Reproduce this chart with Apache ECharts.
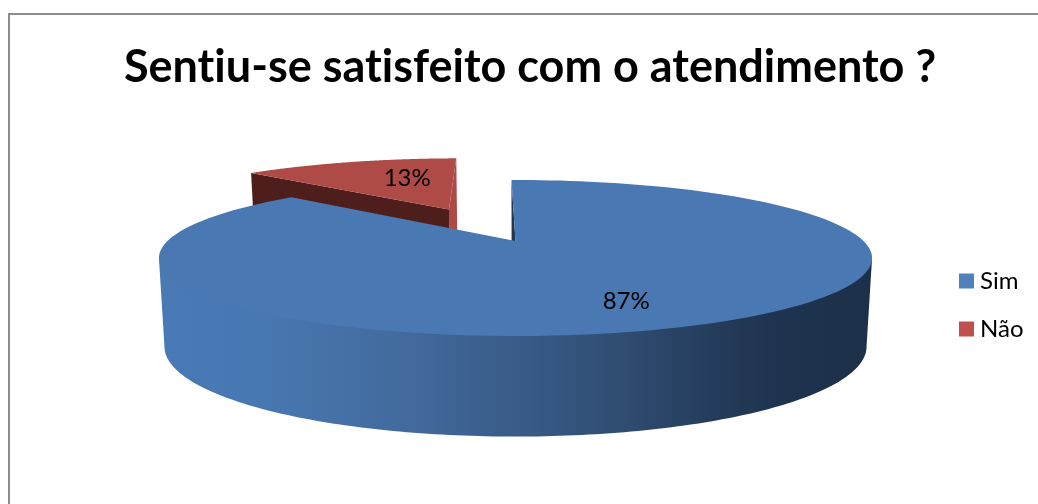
<!DOCTYPE html>
<html><head><meta charset="utf-8">
<style>html,body{margin:0;padding:0;background:#fff}#c{width:1038px;height:504px}</style>
<script src="https://cdn.jsdelivr.net/npm/echarts@6/dist/echarts.min.js"></script>
</head><body><div id="c"></div>
<script>
const titleText = 'Sentiu-se satisfeito com o atendimento ?';
const categories = ['Sim', 'Não'];
const values = [87, 13];
const total = values.reduce((a, b) => a + b, 0);

// perspective pie layout
const P = {cx: 515.5, b: 0.218, start: -0.8,
  top: {cy: 241, A: 74.3, R: 348},
  bot: {cy: 327, A: 85.7, R: 342.6},
  explode: [0, 0.514], shiftX: [0, 0]};

// no ligatures in canvas text
const nativeGetContext = HTMLCanvasElement.prototype.getContext;
HTMLCanvasElement.prototype.getContext = function () {
  const ctx = nativeGetContext.apply(this, arguments);
  if (ctx && 'fontVariantCaps' in ctx && 'textRendering' in ctx) ctx.textRendering = 'optimizeSpeed';
  return ctx;
};

const rad = d => d * Math.PI / 180;
function project(xw, yw, pl, dx) {
  const s = 1 / (1 + P.b * yw);
  return [P.cx + (dx || 0) + pl.R * xw * s, pl.cy - pl.A * yw * s];
}
function sliceAngles(i) {
  let a = P.start;
  for (let k = 0; k < i; k++) a += values[k] / total * 360;
  return [a, a + values[i] / total * 360];
}
function pts(i) {
  const [a0, a1] = sliceAngles(i), mid = rad((a0 + a1) / 2), e = P.explode[i];
  const ox = e * Math.sin(mid), oy = e * Math.cos(mid), dx = P.shiftX[i];
  return {
    a0, a1, ox, oy, dx, mid,
    at: (deg, r, pl) => project(ox + r * Math.sin(rad(deg)), oy + r * Math.cos(rad(deg)), pl, dx)
  };
}
function arc(g, from, to, pl, inset) {
  const out = [], n = 160;
  for (let k = 0; k <= n; k++) {
    const r = 1 - (inset || 0) * Math.sin(Math.PI * k / n);
    out.push(g.at(from + (to - from) * k / n, r, pl));
  }
  return out;
}
const sideGrad = () => new echarts.graphic.LinearGradient(0, 0, 1, 0, [
  {offset: 0, color: '#4a7ab5'}, {offset: 0.14, color: '#4878b2'},
  {offset: 0.36, color: '#41699b'}, {offset: 0.6, color: '#33527a'},
  {offset: 0.8, color: '#233a58'}, {offset: 0.87, color: '#1e334e'}, {offset: 1, color: '#1d3049'}]);

const labelSpots = [{r: 0.75, dx: -15, dy: 1}, {r: 0.55, dx: 17, dy: -3}];
function labelEl(g, i) {
  const s = labelSpots[i], m = g.at((g.a0 + g.a1) / 2, s.r, P.top);
  return {type: 'text', z2: 10, x: m[0] + s.dx, y: m[1] + s.dy, style: {
    text: Math.round(values[i] / total * 100) + '%', fill: '#000',
    font: '24px Lato', align: 'center', verticalAlign: 'middle'}};
}
function renderSim(params, api) {
  const g = pts(0), T = P.top, B = P.bot;
  const sil = Math.acos(-P.b) * 180 / Math.PI;
  const wall = arc(g, sil, 360 - sil, T, 0.04).concat(arc(g, sil, 360 - sil, B).reverse());
  const face = arc(g, g.a0, g.a1, T); face.push(g.at(0, 0, T));
  const cut = [g.at(g.a0, 1, T), g.at(0, 0, T), g.at(0, 0, B), g.at(g.a0, 1, B)];
  return {type: 'group', children: [
    {type: 'polygon', shape: {points: cut}, style: {fill: '#20364f'}},
    {type: 'polygon', shape: {points: wall}, style: {fill: sideGrad()}},
    {type: 'polygon', shape: {points: face}, style: {fill: '#4a78b2'}},
    labelEl(g, 0)
  ]};
}
function renderNao(params, api) {
  const g = pts(1), T = P.top, B = P.bot;
  const face = arc(g, g.a0, g.a1, T); face.push(g.at(0, 0, T));
  const wallL = [g.at(g.a0, 1, T), g.at(0, 0, T), g.at(0, 0, B), g.at(g.a0, 1, B)];
  const wallR = [g.at(g.a1, 1, T), g.at(0, 0, T), g.at(0, 0, B), g.at(g.a1, 1, B)];
  return {type: 'group', children: [
    {type: 'polygon', shape: {points: wallR}, style: {fill: '#ad4a45'}},
    {type: 'polygon', shape: {points: wallL}, style: {fill: '#4d1e1c'}},
    {type: 'polygon', shape: {points: face}, style: {fill: '#ae4b46'}},
    labelEl(g, 1)
  ]};
}
const chart = echarts.init(document.getElementById('c'), null, {renderer: 'canvas'});
chart.setOption({
  animation: false,
  backgroundColor: '#fff',
  title: {text: titleText, left: 525, top: 40, textAlign: 'center',
    textStyle: {fontFamily: 'Lato', fontWeight: 'bold', fontSize: 45, color: '#000'}},
  legend: {orient: 'vertical', left: 954, top: 264, itemWidth: 15, itemHeight: 15, itemGap: 24,
    icon: 'rect', selectedMode: false, data: categories,
    textStyle: {fontFamily: 'Lato', fontSize: 24, color: '#000', padding: [0, 0, 0, 1]}},
  graphic: [{type: 'rect', silent: true, shape: {x: 9, y: 14, width: 1100, height: 600},
    style: {fill: 'none', stroke: '#8c8c8c', lineWidth: 2}}],
  series: [
    {type: 'custom', name: categories[1], coordinateSystem: 'none', z: 2, renderItem: renderNao,
     itemStyle: {color: '#c0504d'}, data: [[values[1]]]},
    {type: 'custom', name: categories[0], coordinateSystem: 'none', z: 3, renderItem: renderSim,
     itemStyle: {color: '#4f81bd'}, data: [[values[0]]]}
  ]
});
</script></body></html>
